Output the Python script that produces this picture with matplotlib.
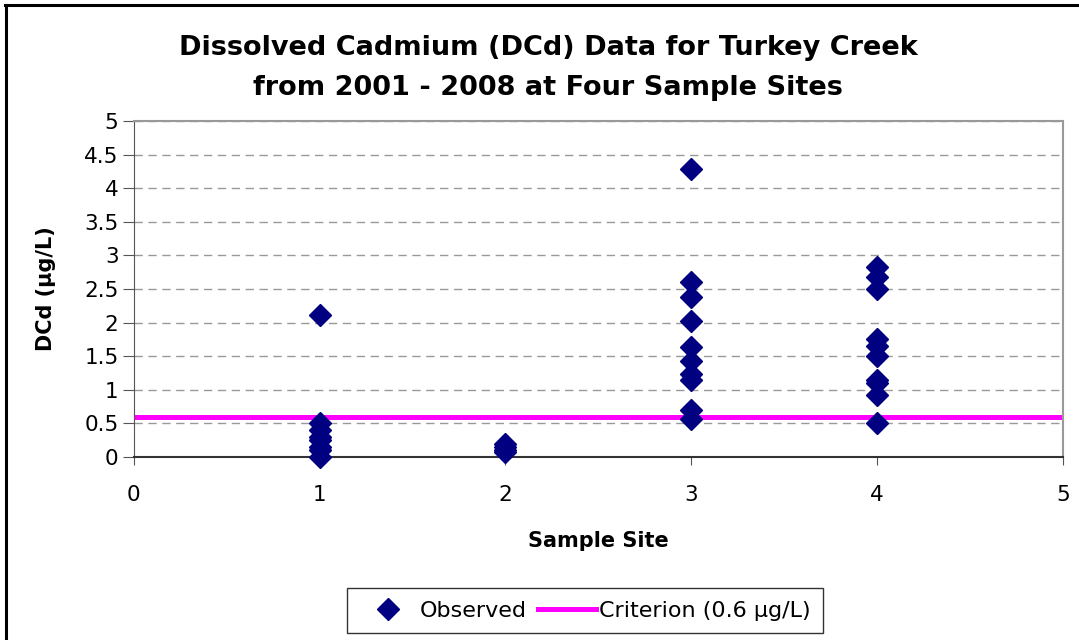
import matplotlib.pyplot as plt
from matplotlib.lines import Line2D

plt.rcParams['font.family'] = ['DejaVu Sans']

# observed dissolved cadmium per sample site (ug/L)
site1 = [2.11, 0.5, 0.4, 0.3, 0.25, 0.15, 0.1, 0.0]
site2 = [0.2, 0.15, 0.1, 0.07]
site3 = [4.28, 2.6, 2.38, 2.02, 1.63, 1.43, 1.24, 1.14, 0.7, 0.56]
site4 = [2.82, 2.68, 2.5, 1.75, 1.65, 1.5, 1.15, 1.1, 0.92, 0.5]
sites = [1, 2, 3, 4]
criterion = 0.6

xs, ys = [], []
for s, vals in zip(sites, [site1, site2, site3, site4]):
    xs += [s] * len(vals)
    ys += vals

fig = plt.figure(figsize=(10.79, 6.40), dpi=100)
# chart frame (only left and top edges are inside the picture)
fig.lines.append(Line2D([0.0052, 0.0052], [0.0, 0.992], transform=fig.transFigure,
                        color='black', linewidth=2.2))
fig.lines.append(Line2D([0.0042, 1.0], [0.992, 0.992], transform=fig.transFigure,
                        color='black', linewidth=2.2))

ax = fig.add_axes([0.124, 0.286, 0.861, 0.525])

ax.axhline(criterion, color='#ff00ff', linewidth=3.6, zorder=2,
           label='Criterion (0.6 \u00b5g/L)')
ax.plot(xs, ys, linestyle='none', marker='D', markersize=11, color='#000080',
        markeredgecolor='#000080', zorder=3, clip_on=False, label='Observed')

ax.set_xlim(0, 5)
ax.set_ylim(0, 5)
ax.set_xticks([0, 1, 2, 3, 4, 5])
ax.set_yticks([0, 0.5, 1, 1.5, 2, 2.5, 3, 3.5, 4, 4.5, 5])
ax.set_yticklabels(['0', '0.5', '1', '1.5', '2', '2.5', '3', '3.5', '4', '4.5', '5'])
ax.tick_params(labelsize=15.5, direction='out', color='#555555')
ax.tick_params(axis='y', length=8, pad=3)
ax.tick_params(axis='x', length=6, pad=14)
ax.grid(axis='y', linestyle=(0, (6, 4)), color='#999999', linewidth=1)
ax.set_axisbelow(True)
for side in ['top', 'right']:
    ax.spines[side].set_color('#999999')
    ax.spines[side].set_linewidth(1.5)
ax.spines['left'].set_color('#555555')
ax.spines['bottom'].set_color('#333333')
ax.spines['bottom'].set_linewidth(1.5)

ax.set_xlabel('Sample Site', fontsize=15, fontweight='bold', va='center')
ax.xaxis.set_label_coords(0.5, -0.25)
ax.set_ylabel('DCd (\u00b5g/L)', fontsize=15, fontweight='bold', va='center')
ax.yaxis.set_label_coords(-0.094, 0.5)

fig.text(0.508, 0.925, 'Dissolved Cadmium (DCd) Data for Turkey Creek',
         ha='center', va='center', fontsize=19.5, fontweight='bold')
fig.text(0.508, 0.862, 'from 2001 - 2008 at Four Sample Sites',
         ha='center', va='center', fontsize=19.5, fontweight='bold')

handles, labels = ax.get_legend_handles_labels()
leg = fig.legend(handles[::-1], labels[::-1], loc='center', bbox_to_anchor=(0.542, 0.046),
                 ncol=2, fontsize=16, frameon=True, fancybox=False, edgecolor='black',
                 handlelength=2.6, handletextpad=0.15, columnspacing=0.5, borderpad=0.55,
                 borderaxespad=0)
leg.get_frame().set_linewidth(1.0)

fig.savefig('out.png', dpi=100)
